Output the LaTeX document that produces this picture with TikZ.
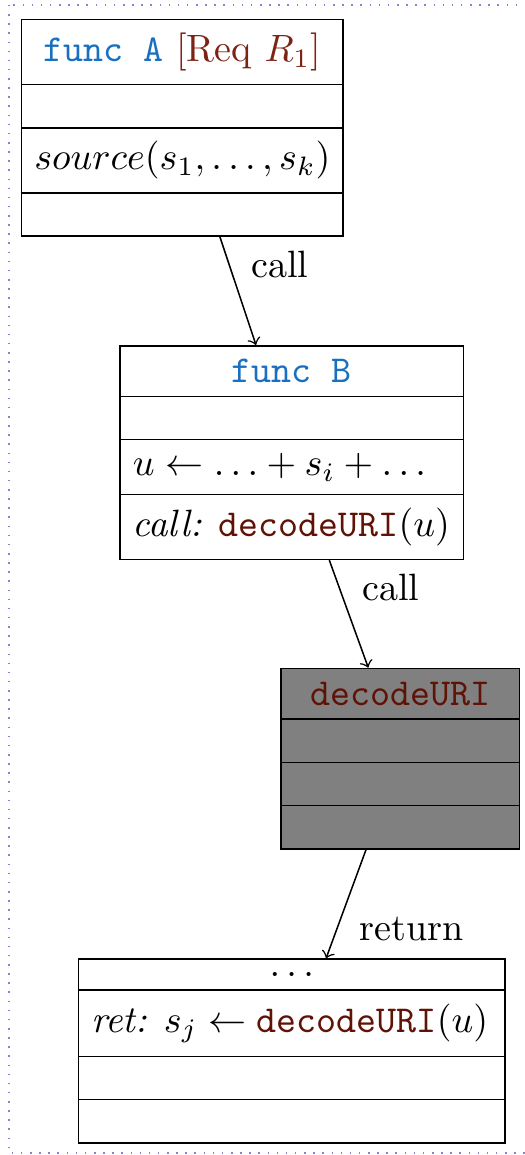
\documentclass[tikz,border=0pt]{standalone}
\usetikzlibrary{shapes.multipart}

\definecolor{kwblue}{RGB}{25,112,192}
\definecolor{reqred}{RGB}{125,35,20}
\definecolor{uricol}{RGB}{95,18,5}
\definecolor{framecol}{RGB}{140,128,205}

\newcommand{\kw}[1]{\textcolor{kwblue}{\texttt{#1}}}
\newcommand{\uri}{\textcolor{uricol}{\texttt{decodeURI}}}

\begin{document}
\begin{tikzpicture}[
 x=1cm,y=1cm,
 fnbox/.style={rectangle split,rectangle split parts=4,draw,anchor=north,
  rectangle split part align={center,left,left,left}},
 libbox/.style={fnbox,fill=gray}
]
 \useasboundingbox (0,0) rectangle (4.848,-10.666);
 \draw[framecol,dotted] (0.083,-0.046) rectangle (4.86,-10.648);

 % caller with the tainted source
 \node[fnbox,minimum width=2.959cm] (fa) at (1.685,-0.175)
  {\kw{func A} \textcolor{reqred}{[Req $R_1$]}%
   \nodepart{two}%
   \nodepart{three}$source(s_1,\ldots,s_k)$%
   \nodepart{four}};

 \node[fnbox,minimum width=3.170cm] (fb) at (2.694,-3.186)
  {\kw{func B}%
   \nodepart{two}%
   \nodepart{three}$u\leftarrow\ldots+s_i+\ldots$%
   \nodepart{four}\textit{call:} $\uri(u)$};

 % library function, body not analysed
 \node[libbox,minimum width=2.201cm] (fc) at (3.696,-6.166)
  {\uri%
   \nodepart{two}%
   \nodepart{three}%
   \nodepart{four}};

 \node[fnbox,minimum width=3.941cm] (fd) at (2.694,-8.850)
  {$\ldots$%
   \nodepart{two}\textit{ret:} $s_j\leftarrow\uri(u)$%
   \nodepart{three}%
   \nodepart{four}};

 \draw[->] ([xshift=0.346cm]fa.south) -- ([xshift=-0.330cm]fb.north)
  node[midway,above right] {call};
 \draw[->] ([xshift=0.347cm]fb.south) -- ([xshift=-0.295cm]fc.north)
  node[midway,above right] {call};
 \draw[->] ([xshift=-0.316cm]fc.south) -- ([xshift=0.317cm]fd.north)
  node[midway,below right] {return};
\end{tikzpicture}
\end{document}
